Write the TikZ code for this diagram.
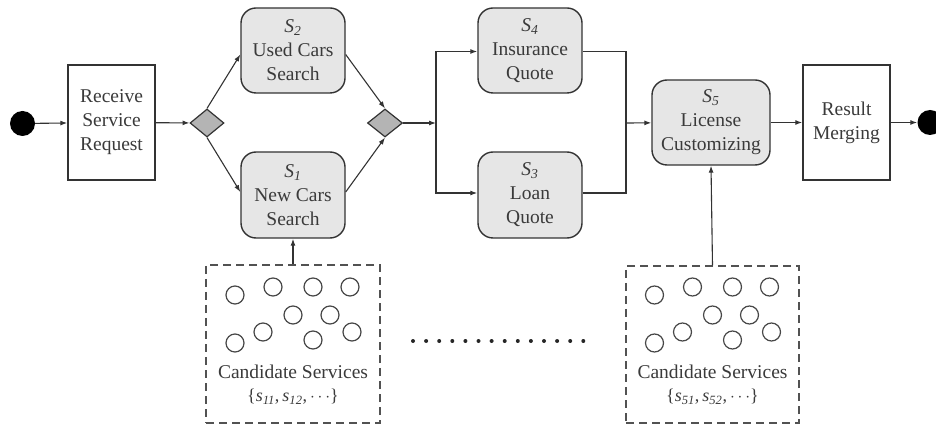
\documentclass[tikz,border=0pt]{standalone}
\usepackage{fontspec}
\setmainfont{Liberation Serif}
\usetikzlibrary{shapes.geometric,arrows.meta}
\definecolor{ln}{HTML}{333333}
\definecolor{tx}{HTML}{3A3A3A}
\definecolor{boxfill}{HTML}{E6E6E6}
\definecolor{dfill}{HTML}{B4B4B4}
\tikzset{
  big/.style={font=\fontsize{19.5}{24}\selectfont, text=tx},
  small/.style={font=\fontsize{18}{20}\selectfont, text=tx},
  plainbox/.style={draw=ln, line width=1.4pt, fill=white, inner sep=0pt, align=center, big},
  svcbox/.style={draw=ln, line width=1.4pt, fill=boxfill, rounded corners=15pt, inner sep=0pt, align=center, big},
  gate/.style={diamond, draw=ln, line width=1.2pt, fill=dfill, inner sep=0pt},
  candbox/.style={draw=ln!85, line width=1.4pt, dash pattern=on 8pt off 5pt, inner sep=0pt},
  blob/.style={circle, fill=black, inner sep=0pt, minimum size=25pt},
  arr/.style={draw=ln, line width=1.1pt, -{Latex[length=7pt,width=5pt]}},
  con/.style={draw=ln, line width=1.1pt},
  ring/.style={draw=ln!90, line width=1.2pt},
}
\newcommand{\Slab}[1]{\textit{S}\textsubscript{\textit{#1}}}
\begin{document}
\begin{tikzpicture}[x=1pt,y=-1pt]
\useasboundingbox (0,0) rectangle (936,427);
% main row
\node[blob] (start) at (22.5,123.5) {};
\node[plainbox, minimum width=87pt, minimum height=115pt] (recv) at (111.5,122.5) {Receive\\Service\\Request};
\node[gate, minimum width=34pt, minimum height=28pt] (d1) at (207,123) {};
\node[svcbox, minimum width=104pt, minimum height=85pt] (s2) at (293,50.5) {\Slab{2}\\Used Cars\\Search};
\node[svcbox, minimum width=104pt, minimum height=86pt] (s1) at (293,195) {\Slab{1}\\New Cars\\Search};
\node[gate, minimum width=35pt, minimum height=28pt] (d2) at (385,123) {};
\coordinate (j1) at (436,123);
\node[svcbox, minimum width=104pt, minimum height=85pt] (s4) at (530,50.5) {\Slab{4}\\Insurance\\Quote};
\node[svcbox, minimum width=104pt, minimum height=86pt] (s3) at (530,195) {\Slab{3}\\Loan\\Quote};
\coordinate (j2) at (626,123);
\node[svcbox, minimum width=118pt, minimum height=85pt] (s5) at (711,122.5) {\Slab{5}\\License\\Customizing};
\node[plainbox, minimum width=87pt, minimum height=115pt] (res) at (846.5,122.5) {Result\\Merging};
\node[blob] (end) at (930,122.5) {};
% candidate boxes
\node[candbox, minimum width=174pt, minimum height=158pt] (c1) at (293,344) {};
\node[candbox, minimum width=173pt, minimum height=157pt] (c2) at (712.5,344.5) {};
\foreach \b/\cx in {c1/293, c2/712.5}{
  \foreach \dx/\dy in {-58/295, -20/287, 20/287, 57/287, 0/315, 37/315, -58/343, -30/332, 20/340, 59/332}{
    \draw[ring] (\cx+\dx,\dy) circle (9pt);
  }
}
\node[big] (t1) at (293,372) {Candidate Services};
\node[small] (u1) at (293,397) {\{\textit{s}\textsubscript{\textit{11}},\,\textit{s}\textsubscript{\textit{12}},\,$\cdots$\}};
\node[big] (t2) at (712.5,372) {Candidate Services};
\node[small] (u2) at (712.5,397) {\{\textit{s}\textsubscript{\textit{51}},\,\textit{s}\textsubscript{\textit{52}},\,$\cdots$\}};
% dots
\foreach \i in {0,...,13}{
  \fill[black!85] (413+13.1*\i,341) circle (2pt);
}
% connectors
\draw[arr] (start) -- (recv);
\draw[arr] (recv) -- (d1);
\draw[arr] (d1.north) -- ([yshift=-4pt]s2.west);
\draw[arr] (d1.south) -- ([yshift=3pt]s1.west);
\draw[arr] ([yshift=-4pt]s2.east) -- (d2.north);
\draw[arr] ([yshift=3pt]s1.east) -- (d2.south);
\draw[arr] (d2.east) -- (j1);
\draw[arr] (j1) |- ([yshift=-1pt]s4.west);
\draw[arr] (j1) |- ([yshift=2pt]s3.west);
\draw[con] ([yshift=-1pt]s4.east) -| (j2);
\draw[con] ([yshift=2pt]s3.east) -| (j2);
\draw[arr] (j2) -- (s5);
\draw[arr] (s5) -- (res);
\draw[arr] (res) -- (end);
\draw[arr] (c1.north) -- (s1.south);
\draw[arr] (c2.north) -- (s5.south);
\end{tikzpicture}
\end{document}
